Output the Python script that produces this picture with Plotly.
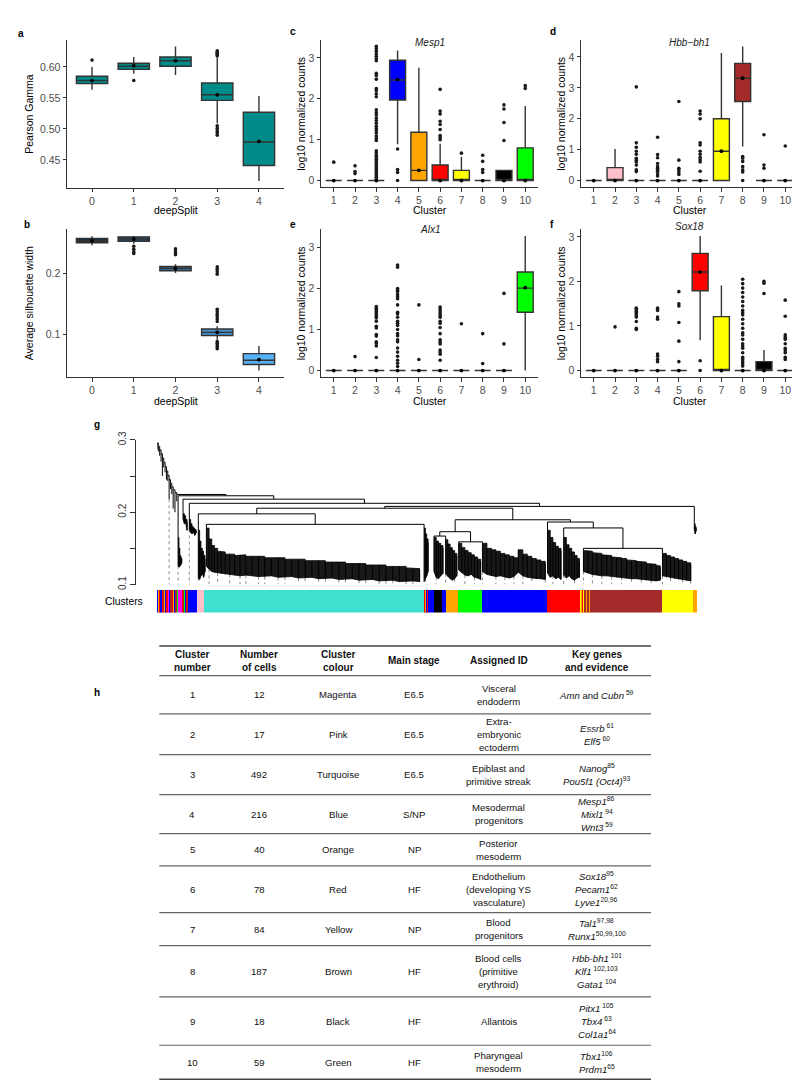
import plotly.graph_objects as go

W, H = 800, 1086
FONT = "Liberation Sans, Arial, sans-serif"

# ======================= DATA =======================
deepsplit = [0, 1, 2, 3, 4]

gamma_q1 = [0.573, 0.596, 0.601, 0.546, 0.441]
gamma_median = [0.578, 0.601, 0.610, 0.555, 0.479]
gamma_q3 = [0.585, 0.606, 0.616, 0.574, 0.527]
gamma_low = [0.563, 0.589, 0.587, 0.509, 0.416]
gamma_high = [0.600, 0.616, 0.633, 0.616, 0.553]
gamma_mean = [0.578, 0.602, 0.610, 0.555, 0.480]
gamma_outliers = [[0.611], [0.578], [],
                  [0.618, 0.620, 0.622, 0.624, 0.626, 0.505, 0.501, 0.497, 0.494, 0.490], []]

sil_q1 = [0.2507, 0.2533, 0.2046, 0.0979, 0.050]
sil_median = [0.2540, 0.2570, 0.2085, 0.1030, 0.057]
sil_q3 = [0.2577, 0.2605, 0.2117, 0.1086, 0.068]
sil_low = [0.2468, 0.2490, 0.2008, 0.0907, 0.040]
sil_high = [0.2615, 0.2620, 0.2155, 0.1130, 0.0805]
sil_mean = [0.2540, 0.2570, 0.2085, 0.1030, 0.058]
sil_outliers = [[], [0.245, 0.240, 0.236, 0.233], [0.241, 0.237, 0.234, 0.231],
                [0.211, 0.207, 0.203, 0.199, 0.141, 0.137, 0.133, 0.129, 0.125, 0.121,
                 0.088, 0.085, 0.082, 0.079, 0.076], []]

clusters = [1, 2, 3, 4, 5, 6, 7, 8, 9, 10]
cluster_colours = ["#FF00FF", "#FFC0CB", "#40E0D0", "#0000FF", "#FFA500",
                   "#FF0000", "#FFFF00", "#A52A2A", "#000000", "#00FF00"]

mesp1_q1 = [0, 0, 0, 1.97, 0, 0, 0, 0, 0, 0]
mesp1_median = [0, 0, 0, 2.46, 0.25, 0, 0, 0, 0, 0]
mesp1_q3 = [0, 0, 0, 2.94, 1.18, 0.38, 0.25, 0, 0.25, 0.80]
mesp1_low = [0, 0, 0, 0.89, 0, 0, 0, 0, 0, 0]
mesp1_high = [0, 0, 0, 3.18, 2.76, 0.90, 0.58, 0, 0.25, 1.82]
mesp1_mean = [0, 0, 0, 2.47, 0.25, 0, 0, 0, 0, 0]
mesp1_outliers = [
    [0.45], [0.36, 0.22, 0.17],
    [0.04, 0.08, 0.12, 0.16, 0.20, 0.25, 0.29, 0.33, 0.38, 0.42, 0.47, 0.52, 0.57, 0.62, 0.68,
     0.73, 0.98, 1.03, 1.09, 1.16, 1.22, 1.27, 1.33, 1.40, 1.47, 1.53, 1.60, 1.66, 1.73, 2.05,
     2.12, 2.20, 2.25, 2.48, 2.57, 2.62, 2.93, 2.98, 3.04, 3.10, 3.16, 3.22, 3.28],
    [0.77, 0.27, 0.20, 0.0], [],
    [2.23, 1.70, 1.63, 1.45, 1.37, 1.25, 1.10, 1.05, 1.00],
    [0.67], [0.62, 0.47, 0.27, 0.20], [1.85, 1.75, 1.42, 0.98], [2.32, 2.25]]

hbb_q1 = [0, 0, 0, 0, 0, 0, 0, 2.56, 0, 0]
hbb_median = [0, 0, 0, 0, 0, 0, 0.95, 3.31, 0, 0]
hbb_q3 = [0, 0.42, 0, 0, 0, 0, 2.00, 3.79, 0, 0]
hbb_low = [0, 0, 0, 0, 0, 0, 0, 1.10, 0, 0]
hbb_high = [0, 1.02, 0, 0, 0, 0, 4.13, 4.34, 0, 0]
hbb_mean = [0, 0, 0, 0, 0, 0, 0.95, 3.31, 0, 0]
hbb_outliers = [
    [], [],
    [3.03, 1.22, 1.08, 0.95, 0.85, 0.72, 0.66, 0.60, 0.50, 0.35, 0.29],
    [1.40, 0.84, 0.74, 0.55, 0.45, 0.40, 0.35, 0.30, 0.22, 0.15],
    [2.56, 0.66, 0.40, 0.35, 0.28, 0.20],
    [2.25, 2.15, 2.00, 1.22, 1.15, 0.95, 0.85, 0.75, 0.67, 0.60, 0.30],
    [], [0.78, 0.72, 0.62, 0.45, 0.35, 0.28, 0.0], [1.48, 0.50, 0.40], [1.12]]

alx1_q1 = [0, 0, 0, 0, 0, 0, 0, 0, 0, 1.42]
alx1_median = [0, 0, 0, 0, 0, 0, 0, 0, 0, 2.01]
alx1_q3 = [0, 0, 0, 0, 0, 0, 0, 0, 0, 2.40]
alx1_low = [0, 0, 0, 0, 0, 0, 0, 0, 0, 0]
alx1_high = [0, 0, 0, 0, 0, 0, 0, 0, 0, 3.28]
alx1_mean = [0, 0, 0, 0, 0, 0, 0, 0, 0, 2.02]
alx1_outliers = [
    [], [0.34],
    [1.56, 1.52, 1.48, 1.44, 1.40, 1.36, 1.32, 1.28, 1.20, 1.08, 1.04, 0.88, 0.84, 0.70, 0.66,
     0.60, 0.32],
    [2.57, 2.52, 2.00, 1.96, 1.92, 1.85, 1.80, 1.75, 1.60, 1.42, 1.38, 1.30, 1.20, 1.15, 1.10,
     1.00, 0.90, 0.85, 0.75, 0.70, 0.55, 0.45, 0.35, 0.25, 0.18, 0.10],
    [1.60, 0.27],
    [1.55, 1.50, 1.45, 1.40, 1.35, 1.30, 1.20, 1.15, 1.05, 0.90, 0.75, 0.70, 0.65, 0.50, 0.45,
     0.40, 0.25],
    [1.14], [0.90, 0.17], [1.88, 0.65], []]

sox18_q1 = [0, 0, 0, 0, 0, 1.79, 0, 0, 0, 0]
sox18_median = [0, 0, 0, 0, 0, 2.21, 0, 0, 0, 0]
sox18_q3 = [0, 0, 0, 0, 0, 2.63, 1.21, 0, 0.20, 0]
sox18_low = [0, 0, 0, 0, 0, 0.68, 0, 0, 0, 0]
sox18_high = [0, 0, 0, 0, 0, 3.02, 1.91, 0, 0.46, 0]
sox18_mean = [0, 0, 0, 0, 0, 2.21, 0, 0, 0, 0]
sox18_outliers = [
    [], [0.98],
    [1.40, 1.37, 1.33, 1.30, 1.27, 1.23, 1.20, 1.10, 0.95, 0.92],
    [1.40, 1.35, 1.20, 1.15, 0.37, 0.32, 0.25, 0.20],
    [1.77, 1.50, 1.45, 1.08, 0.66, 0.20],
    [0.22, 0.0], [],
    [2.05, 1.95, 1.85, 1.75, 1.65, 1.55, 1.45, 1.35, 1.30, 1.25, 1.15, 1.05, 0.95, 0.85, 0.80,
     0.70, 0.60, 0.55, 0.50, 0.40, 0.30, 0.25, 0.20, 0.15, 0.10],
    [2.00, 1.96, 1.73],
    [1.58, 1.22, 0.80, 0.75, 0.70, 0.60, 0.50, 0.45, 0.40, 0.30, 0.25]]

# ---- dendrogram (x in cell order index, y = merge height) ----
chain_x = [0, 3, 6, 9, 12, 15, 18, 21, 24, 27, 30, 33, 36, 40, 44]
chain_h = [0.2955, 0.291, 0.286, 0.281, 0.275, 0.269, 0.263, 0.257, 0.251, 0.245, 0.240,
           0.235, 0.231, 0.227, 0.2245]
chain_end = [0.287, 0.284, 0.278, 0.270, 0.250, 0.262, 0.255, 0.245, 0.243, 0.218, 0.232,
             0.225, 0.205, 0.200, 0.215]

blk_mag = ([47, 49, 51, 53, 55], [0.165, 0.150, 0.140, 0.137, 0.135],
           [0.126, 0.124, 0.125, 0.127, 0.130])
blk_s57 = ([58, 61, 64, 67], [0.198, 0.195, 0.190, 0.186], [0.190, 0.184, 0.185, 0.175])
blk_b1 = ([72, 75, 78, 81, 84, 87], [0.190, 0.184, 0.180, 0.178, 0.176, 0.175],
          [0.176, 0.172, 0.170, 0.173, 0.168, 0.171])
blk_pink = ([92, 95, 98, 101, 104, 107], [0.175, 0.160, 0.150, 0.146, 0.140, 0.135],
            [0.109, 0.107, 0.112, 0.115, 0.110, 0.118])
blk_turq = ([110, 116, 122, 128, 135, 143, 152, 162, 173, 185, 198, 212, 226, 240, 255, 270,
             285, 300, 315, 330, 345, 360, 375, 390, 405, 420, 435, 450, 465, 480, 495, 510,
             525, 540, 555, 570, 585],
            [0.178, 0.163, 0.154, 0.150, 0.146, 0.145, 0.142, 0.142, 0.140, 0.141, 0.139, 0.138,
             0.139, 0.137, 0.136, 0.137, 0.135, 0.134, 0.135, 0.133, 0.132, 0.133, 0.131, 0.130,
             0.131, 0.129, 0.128, 0.129, 0.127, 0.126, 0.127, 0.125, 0.124, 0.125, 0.123, 0.122,
             0.121],
            [0.125, 0.121, 0.118, 0.117, 0.116, 0.115, 0.114, 0.114, 0.113, 0.112, 0.113, 0.112,
             0.111, 0.111, 0.112, 0.110, 0.110, 0.111, 0.109, 0.109, 0.110, 0.108, 0.108, 0.109,
             0.107, 0.107, 0.108, 0.106, 0.106, 0.107, 0.105, 0.105, 0.106, 0.104, 0.104, 0.105,
             0.104])
blk_mid1 = ([595, 598, 601, 604], [0.178, 0.170, 0.163, 0.158], [0.104, 0.108, 0.112, 0.118])
blk_black = ([617, 622, 627, 632, 637], [0.165, 0.160, 0.157, 0.154, 0.151],
             [0.118, 0.110, 0.108, 0.112, 0.115])
blk_orange = ([643, 648, 653, 658, 663, 668], [0.162, 0.156, 0.151, 0.147, 0.143, 0.140],
              [0.115, 0.111, 0.108, 0.106, 0.108, 0.112])
blk_green = ([672, 679, 686, 693, 700, 707, 714, 721],
             [0.157, 0.151, 0.147, 0.144, 0.141, 0.138, 0.135, 0.132],
             [0.120, 0.116, 0.113, 0.112, 0.114, 0.110, 0.109, 0.107])
blk_blue = ([725, 735, 745, 755, 765, 775, 785, 795, 805, 815, 825, 835, 845, 855, 865],
            [0.157, 0.150, 0.148, 0.146, 0.143, 0.141, 0.139, 0.137, 0.148, 0.142, 0.139, 0.136,
             0.134, 0.132, 0.130],
            [0.118, 0.114, 0.112, 0.111, 0.112, 0.110, 0.109, 0.111, 0.117, 0.112, 0.110, 0.109,
             0.108, 0.108, 0.107])
blk_red_a = ([870, 876, 882, 888, 894, 900], [0.175, 0.165, 0.158, 0.153, 0.150, 0.147],
             [0.116, 0.110, 0.112, 0.108, 0.110, 0.107])
blk_red_b = ([906, 912, 918, 924, 930, 936, 941], [0.165, 0.155, 0.150, 0.145, 0.140, 0.136, 0.132],
             [0.113, 0.109, 0.112, 0.108, 0.106, 0.109, 0.110])
blk_brown = ([950, 960, 970, 980, 991, 1002, 1013, 1024, 1035, 1046, 1057, 1068, 1079, 1090,
              1101, 1112, 1121],
             [0.147, 0.146, 0.144, 0.143, 0.141, 0.140, 0.138, 0.137, 0.136, 0.134, 0.133, 0.132,
              0.131, 0.129, 0.128, 0.126, 0.124],
             [0.118, 0.116, 0.114, 0.113, 0.112, 0.112, 0.111, 0.110, 0.110, 0.109, 0.108, 0.108,
              0.107, 0.106, 0.106, 0.105, 0.106])
blk_yellow = ([1126, 1135, 1144, 1153, 1162, 1171, 1180, 1189],
              [0.143, 0.140, 0.138, 0.136, 0.134, 0.132, 0.130, 0.128],
              [0.112, 0.110, 0.109, 0.108, 0.107, 0.107, 0.106, 0.105])
blk_end = ([1197, 1199, 1201], [0.184, 0.180, 0.178], [0.176, 0.170, 0.174])

dendro_blocks = {"mag": blk_mag, "s57": blk_s57, "b1": blk_b1, "pink": blk_pink,
                 "turq": blk_turq, "mid1": blk_mid1, "black": blk_black, "orange": blk_orange,
                 "green": blk_green, "blue": blk_blue, "red_a": blk_red_a, "red_b": blk_red_b,
                 "brown": blk_brown, "yellow": blk_yellow, "end": blk_end}

dendro_merges = [
    ("Nturq", "turq", "mid1", 0.1832),
    ("N_A", "pink", "Nturq", 0.1977),
    ("N_bo", "black", "orange", 0.167),
    ("N_gb", "green", "blue", 0.159),
    ("N_mid", "N_bo", "N_gb", 0.173),
    ("N_by", "brown", "yellow", 0.150),
    ("N_x", "red_b", "N_by", 0.1782),
    ("N_rb", "red_a", "N_x", 0.1864),
    ("N_mr", "N_mid", "N_rb", 0.1895),
    ("N_B", "N_A", "N_mr", 0.2055),
    ("N_C", "N_B", "end", 0.208),
    ("M3", "b1", "N_C", 0.2123),
    ("M2", "s57", "M3", 0.218),
    ("P", "mag", "M2", 0.2227),
]

bar_colours = ["blue", "orange", "red", "blue", "red", "brown", "orange", "blue", "red",
               "magenta", "blue", "brown", "red", "orange", "blue", "brown", "green",
               "magenta",
               "red", "brown", "green", "blue", "red", "turquoise", "brown",
               "blue", "pink", "turquoise",
               "orange", "red", "orange", "blue", "red",
               "blue", "black", "blue", "orange", "green", "blue", "red",
               "yellow", "orange", "red", "yellow",
               "brown", "orange", "brown", "orange", "brown",
               "brown", "yellow", "orange"]
bar_sizes = [3, 2, 3, 4, 2, 3, 2, 3, 3, 2, 4, 3, 2, 3, 3, 3, 1,
             10,
             2, 3, 2, 2, 2, 1, 2,
             18, 17, 490,
             2, 2, 1, 2, 1,
             14, 17, 9, 27, 53, 145, 75,
             3, 2, 2, 2,
             5, 1, 6, 1, 4,
             155, 70, 9]
named_colour = {"magenta": "#FF00FF", "pink": "#FFC0CB", "turquoise": "#40E0D0",
                "blue": "#0000FF", "orange": "#FFA500", "red": "#FF0000",
                "yellow": "#FFFF00", "brown": "#A52A2A", "black": "#000000",
                "green": "#00FF00"}

# ---- table ----
tbl_header = [["Cluster", "number"], ["Number", "of cells"], ["Cluster", "colour"],
              ["Main stage"], ["Assigned ID"], ["Key genes", "and evidence"]]
tbl_cluster = ["1", "2", "3", "4", "5", "6", "7", "8", "9", "10"]
tbl_cells = ["12", "17", "492", "216", "40", "78", "84", "187", "18", "59"]
tbl_colour = ["Magenta", "Pink", "Turquoise", "Blue", "Orange", "Red", "Yellow", "Brown",
              "Black", "Green"]
tbl_stage = ["E6.5", "E6.5", "E6.5", "S/NP", "NP", "HF", "NP", "HF", "HF", "HF"]
tbl_id = [["Visceral", "endoderm"], ["Extra-", "embryonic", "ectoderm"],
          ["Epiblast and", "primitive streak"], ["Mesodermal", "progenitors"],
          ["Posterior", "mesoderm"], ["Endothelium", "(developing YS", "vasculature)"],
          ["Blood", "progenitors"], ["Blood cells", "(primitive", "erythroid)"],
          ["Allantois"], ["Pharyngeal", "mesoderm"]]
tbl_genes = [
    ["<i>Amn</i> and <i>Cubn</i><sup> 59</sup>"],
    ["<i>Essrb</i><sup> 61</sup>", "<i>Elf5</i><sup> 60</sup>"],
    ["<i>Nanog</i><sup>85</sup>", "<i>Pou5f1 (Oct4)</i><sup>93</sup>"],
    ["<i>Mesp1</i><sup>86</sup>", "<i>Mixl1</i><sup> 94</sup>", "<i>Wnt3</i><sup> 59</sup>"],
    [],
    ["<i>Sox18</i><sup>95</sup>", "<i>Pecam1</i><sup>62</sup>", "<i>Lyve1</i><sup>20,96</sup>"],
    ["<i>Tal1</i><sup>97,98</sup>", "<i>Runx1</i><sup>50,99,100</sup>"],
    ["<i>Hbb-bh1</i><sup> 101</sup>", "<i>Klf1</i><sup> 102,103</sup>", "<i>Gata1</i><sup> 104</sup>"],
    ["<i>Pitx1</i><sup> 105</sup>", "<i>Tbx4</i><sup> 63</sup>", "<i>Col1a1</i><sup>64</sup>"],
    ["<i>Tbx1</i><sup>106</sup>", "<i>Prdm1</i><sup>65</sup>"]]

# ======================= LAYOUT HELPERS =======================
def fx(px):
    return px / W


def fy(py):
    return 1 - py / H


fig = go.Figure()
annotations = []
shapes = []


def ann(text, x, y, size=10.5, color="#000000", angle=0, xanchor="center", bold=False):
    annotations.append(dict(text=("<b>%s</b>" % text) if bold else text, x=fx(x), y=fy(y),
                            xref="paper", yref="paper", showarrow=False, textangle=angle,
                            xanchor=xanchor, yanchor="middle", borderpad=0,
                            font=dict(family=FONT, size=size, color=color)))


def names(i):
    s = "" if i == 1 else str(i)
    return "x" + s, "y" + s, "xaxis" + s, "yaxis" + s


def padded(values):
    lo, hi = min(values), max(values)
    s = hi - lo
    return [lo - 0.05 * s, hi + 0.05 * s]


axis_common = dict(showline=True, linecolor="#333333", linewidth=1, ticks="outside",
                   ticklen=3.5, tickwidth=1, tickcolor="#333333", showgrid=False,
                   zeroline=False, tickfont=dict(family=FONT, size=10.5, color="#4D4D4D"))


def box_panel(i, box, xs, q1, med, q3, low, high, mean, outl, fills, xrange, yticks, yticktext):
    xn, yn, xa, ya = names(i)
    for k in range(len(xs)):
        fig.add_trace(go.Box(x=[xs[k]], q1=[q1[k]], median=[med[k]], q3=[q3[k]],
                             lowerfence=[low[k]], upperfence=[high[k]], fillcolor=fills[k],
                             line=dict(color="#333333", width=1.4), width=0.75, whiskerwidth=0,
                             boxpoints=False, xaxis=xn, yaxis=yn, showlegend=False,
                             hoverinfo="skip"))
    ox, oy = [], []
    for k in range(len(xs)):
        ox += [xs[k]] * len(outl[k])
        oy += outl[k]
    fig.add_trace(go.Scatter(x=ox, y=oy, mode="markers", xaxis=xn, yaxis=yn, showlegend=False,
                             marker=dict(size=3.6, color="#1a1a1a"), hoverinfo="skip"))
    fig.add_trace(go.Scatter(x=xs, y=mean, mode="markers", xaxis=xn, yaxis=yn, showlegend=False,
                             marker=dict(size=3.8, color="#000000"), hoverinfo="skip"))
    allv = low + high + sum(outl, [])
    x0, x1, t, b = box
    fig.layout[xa] = dict(axis_common, domain=[fx(x0), fx(x1)], anchor=yn, range=xrange,
                          tickvals=xs, ticktext=[str(v) for v in xs])
    fig.layout[ya] = dict(axis_common, domain=[fy(b), fy(t)], anchor=xn, range=padded(allv),
                          tickvals=yticks, ticktext=yticktext)


# ---- panels a, b ----
box_panel(1, (59, 276, 23, 173), deepsplit, gamma_q1, gamma_median, gamma_q3, gamma_low,
          gamma_high, gamma_mean, gamma_outliers, ["#008B8B"] * 5, [-0.6, 4.6],
          [0.45, 0.50, 0.55, 0.60], ["0.45", "0.50", "0.55", "0.60"])
box_panel(2, (59, 276, 215, 365), deepsplit, sil_q1, sil_median, sil_q3, sil_low, sil_high,
          sil_mean, sil_outliers, ["#132B43", "#244D70", "#346E9D", "#4590CA", "#56B1F7"],
          [-0.6, 4.6], [0.1, 0.2], ["0.1", "0.2"])
# ---- panels c-f ----
box_panel(3, (313, 530, 23, 172.5), clusters, mesp1_q1, mesp1_median, mesp1_q3, mesp1_low,
          mesp1_high, mesp1_mean, mesp1_outliers, cluster_colours, [0.4, 10.6],
          [0, 1, 2, 3], ["0", "1", "2", "3"])
box_panel(4, (573, 790, 23, 172.5), clusters, hbb_q1, hbb_median, hbb_q3, hbb_low, hbb_high,
          hbb_mean, hbb_outliers, cluster_colours, [0.4, 10.6],
          [0, 1, 2, 3, 4], ["0", "1", "2", "3", "4"])
box_panel(5, (313, 530, 215, 365), clusters, alx1_q1, alx1_median, alx1_q3, alx1_low,
          alx1_high, alx1_mean, alx1_outliers, cluster_colours, [0.4, 10.6],
          [0, 1, 2, 3], ["0", "1", "2", "3"])
box_panel(6, (573, 790, 215, 365), clusters, sox18_q1, sox18_median, sox18_q3, sox18_low,
          sox18_high, sox18_mean, sox18_outliers, cluster_colours, [0.4, 10.6],
          [0, 1, 2, 3], ["0", "1", "2", "3"])

# panel texts
ann("a", 13, 17, size=10, bold=True)
ann("b", 19, 210, size=10, bold=True)
ann("c", 285, 15, size=10, bold=True)
ann("d", 545, 15, size=10, bold=True)
ann("e", 285, 210, size=10, bold=True)
ann("f", 544, 210, size=10, bold=True)
ann("Pearson Gamma", 21, 98, angle=-90)
ann("Average silhouette width", 21, 290, angle=-90)
ann("deepSplit", 167.5, 196)
ann("deepSplit", 167.5, 389)
for cx, cy in [(293, 98), (553, 98), (293, 290), (553, 290)]:
    ann("log10 normalized counts", cx, cy, angle=-90)
for cx, cy in [(421.5, 196), (681.5, 196), (421.5, 389), (681.5, 389)]:
    ann("Cluster", cx, cy)
ann("<i>Mesp1</i>", 421.5, 26, size=10, color="#1a1a1a")
ann("<i>Hbb\u2212bh1</i>", 681.5, 26, size=10, color="#1a1a1a")
ann("<i>Alx1</i>", 421.5, 215, size=10, color="#1a1a1a")
ann("<i>Sox18</i>", 681.5, 212, size=10, color="#1a1a1a")

# ======================= DENDROGRAM (g) =======================
total_cells = sum(bar_sizes)
pos = {}
for name, (bx, bt, bb) in dendro_blocks.items():
    pos[name] = (bx[0], bt[0])
seg_x, seg_y = [], []


def seg(x0, y0, x1, y1):
    seg_x.extend([x0, x1, None])
    seg_y.extend([y0, y1, None])


for name, left, right, h in dendro_merges:
    xl, hl = pos[left]
    xr, hr = pos[right]
    seg(xl, h, xr, h)
    seg(xl, h, xl, hl)
    seg(xr, h, xr, hr)
    pos[name] = ((xl + xr) / 2, h)

root_x, root_h = pos["P"]
for k in range(len(chain_x)):
    nx = chain_x[k + 1] if k + 1 < len(chain_x) else root_x
    nh = chain_h[k + 1] if k + 1 < len(chain_x) else root_h
    seg(chain_x[k], chain_h[k], chain_x[k], chain_end[k])
    seg(chain_x[k], chain_h[k], nx, chain_h[k])
    seg(nx, chain_h[k], nx, nh)

# guides: dotted lines from leaf ends down to the base
leaf_x, leaf_end = list(chain_x), list(chain_end)
for bx, bt, bb in dendro_blocks.values():
    leaf_x += bx
    leaf_end += bb
gx, gy = [], []
for g in range(26, total_cells, 22):
    j = min(range(len(leaf_x)), key=lambda i: abs(leaf_x[i] - g))
    gx += [leaf_x[j], leaf_x[j], None]
    gy += [leaf_end[j], 0.1, None]
fig.add_trace(go.Scatter(x=gx, y=gy, mode="lines", xaxis="x7", yaxis="y7", showlegend=False,
                         line=dict(color="#8c8c8c", width=1, dash="dot"), hoverinfo="skip"))

for bx, bt, bb in dendro_blocks.values():
    px_, py_ = [], []
    for k in range(len(bx)):
        px_.append(bx[k]); py_.append(bt[k])
        if k + 1 < len(bx):
            px_.append(bx[k + 1]); py_.append(bt[k])
    for k in reversed(range(len(bx))):
        px_.append(bx[k]); py_.append(bb[k])
    fig.add_trace(go.Scatter(x=px_, y=py_, mode="lines", fill="toself",
                             fillcolor="rgba(0,0,0,0.9)", line=dict(color="#000", width=0.8),
                             xaxis="x7", yaxis="y7", showlegend=False, hoverinfo="skip"))
    for k in range(len(bx)):
        seg(bx[k], bt[k], bx[k], bb[k])

fig.add_trace(go.Scatter(x=seg_x, y=seg_y, mode="lines", xaxis="x7", yaxis="y7",
                         showlegend=False, line=dict(color="#000000", width=1),
                         hoverinfo="skip"))

DEN_LEFT, DEN_RIGHT, DEN_TOP, DEN_BOTTOM = 149, 689, 428.3, 575
fig.layout["xaxis7"] = dict(domain=[fx(DEN_LEFT), fx(DEN_RIGHT)], anchor="y7",
                            range=[0, total_cells], visible=False)
fig.layout["yaxis7"] = dict(domain=[fy(DEN_BOTTOM), fy(DEN_TOP)], anchor="free",
                            position=fx(127), range=[0.0999, 0.3001], showline=True,
                            linecolor="#333333", linewidth=1, ticks="outside", ticklen=5,
                            tickcolor="#333333", tickvals=[0.1, 0.15, 0.2, 0.25, 0.3],
                            ticktext=["0.1", " ", "0.2", " ", "0.3"], tickangle=-90,
                            showgrid=False, zeroline=False,
                            tickfont=dict(family=FONT, size=10, color="#333333"))

# colour bar
centers, acc = [], 0
for s in bar_sizes:
    centers.append(acc + s / 2)
    acc += s
fig.add_trace(go.Bar(x=centers, y=[1] * len(bar_sizes), width=bar_sizes,
                     marker=dict(color=[named_colour[c] for c in bar_colours], line=dict(width=0)),
                     xaxis="x8", yaxis="y8", showlegend=False, hoverinfo="skip"))
fig.layout["xaxis8"] = dict(domain=[fx(DEN_LEFT), fx(DEN_RIGHT)], anchor="y8",
                            range=[0, total_cells], visible=False)
fig.layout["yaxis8"] = dict(domain=[fy(603.3), fy(580)], anchor="x8", range=[0, 1],
                            visible=False)

ann("g", 89, 412.7, size=10, bold=True)
ann("Clusters", 135.5, 591.7, size=10.3, xanchor="right")

# ======================= TABLE (h) =======================
ann("h", 89, 684, size=10, bold=True)
rule_y = [637.3, 667.3, 706, 747.3, 787.7, 827.3, 860, 907.3, 940.7, 992.7, 1041.7, 1076]
col_x = [184, 251.2, 330.4, 406.1, 490.5, 588.7]
tbl_left, tbl_right = 151.3, 643
line_gap = 13.3
for k, yv in enumerate(rule_y):
    edge = k in (0, len(rule_y) - 1)
    shapes.append(dict(type="line", xref="paper", yref="paper", x0=fx(tbl_left), x1=fx(tbl_right),
                       y0=fy(yv), y1=fy(yv),
                       line=dict(color="#444444" if edge else "#666666", width=1.5 if edge else 1.2)))


def cell(lines, cx, top, bottom, bold=False, size=9.6):
    mid = (top + bottom) / 2
    n = len(lines)
    for j, t in enumerate(lines):
        ann(t, cx, mid + (j - (n - 1) / 2) * line_gap, size=size, bold=bold, color="#111111")


for c, lines in enumerate(tbl_header):
    cell(lines, col_x[c], rule_y[0], rule_y[1], bold=True, size=10)
for r in range(len(tbl_cluster)):
    top, bottom = rule_y[r + 1], rule_y[r + 2]
    cell([tbl_cluster[r]], col_x[0], top, bottom)
    cell([tbl_cells[r]], col_x[1], top, bottom)
    cell([tbl_colour[r]], col_x[2], top, bottom)
    cell([tbl_stage[r]], col_x[3], top, bottom)
    cell(tbl_id[r], col_x[4], top, bottom)
    cell(tbl_genes[r], col_x[5], top, bottom)

fig.update_layout(width=W, height=H, margin=dict(l=0, r=0, t=0, b=0),
                  paper_bgcolor="white", plot_bgcolor="white", hovermode=False,
                  font=dict(family=FONT), annotations=annotations, shapes=shapes,
                  showlegend=False, bargap=0)

fig.write_html("out.html")
